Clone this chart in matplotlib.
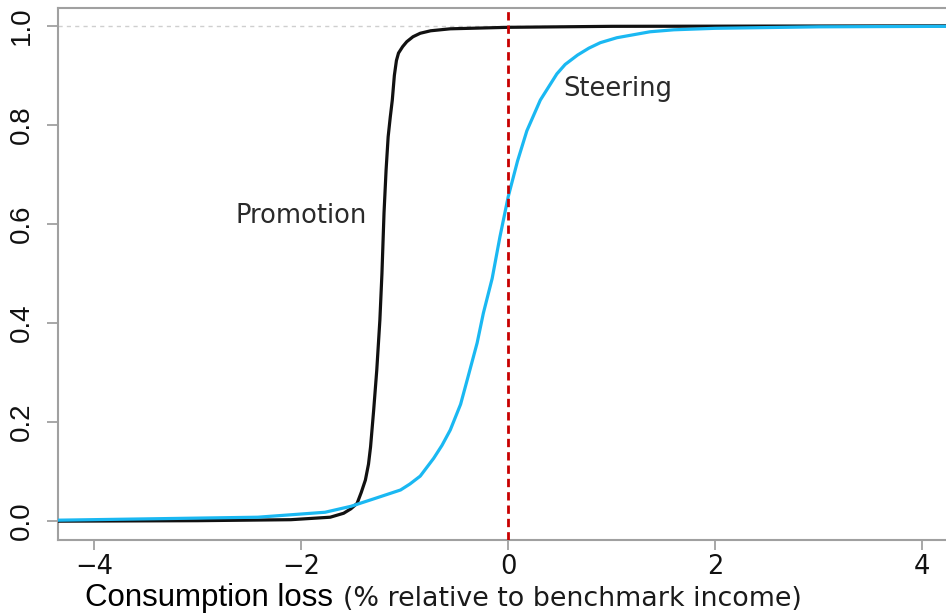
"""
Cumulative distribution of consumption loss under the promotion and
steering policies, with the zero-loss reference marked.
"""

import matplotlib

matplotlib.use("Agg")
import matplotlib.pyplot as plt

# Promotion policy CDF (consumption loss in %, cumulative share)
promotion_x = [-4.35, -3.0, -2.10, -1.72, -1.59, -1.52, -1.46, -1.42, -1.38,
               -1.35, -1.33, -1.30, -1.27, -1.24, -1.22, -1.20, -1.18, -1.16,
               -1.14, -1.12, -1.10, -1.08, -1.06, -1.02, -0.98, -0.92, -0.85,
               -0.75, -0.56, 0.0, 1.0, 4.23]
promotion_y = [0.0, 0.001, 0.003, 0.008, 0.016, 0.025, 0.036, 0.058, 0.083,
               0.115, 0.150, 0.224, 0.305, 0.406, 0.500, 0.622, 0.709, 0.776,
               0.815, 0.850, 0.900, 0.930, 0.945, 0.958, 0.968, 0.978, 0.985,
               0.990, 0.994, 0.997, 0.999, 1.0]

# Steering policy CDF
steering_x = [-4.35, -2.42, -1.77, -1.52, -1.30, -1.04, -0.95, -0.85, -0.72,
              -0.64, -0.56, -0.46, -0.39, -0.30, -0.24, -0.155, -0.08, 0.0,
              0.09, 0.18, 0.31, 0.47, 0.55, 0.67, 0.78, 0.89, 1.05, 1.21, 1.37,
              1.6, 2.0, 3.0, 4.23]
steering_y = [0.002, 0.008, 0.018, 0.030, 0.045, 0.063, 0.075, 0.091, 0.127,
              0.153, 0.184, 0.236, 0.290, 0.360, 0.420, 0.490, 0.574, 0.655,
              0.727, 0.788, 0.850, 0.903, 0.922, 0.941, 0.955, 0.966, 0.976,
              0.982, 0.988, 0.992, 0.995, 0.998, 0.999]

x_ticks = [-4, -2, 0, 2, 4]
y_ticks = [0.0, 0.2, 0.4, 0.6, 0.8, 1.0]

SPINE = "#a0a0a0"

fig = plt.figure(figsize=(9.46, 6.13), dpi=100)
ax = fig.add_axes([58 / 946, 73 / 613, 1 - 58 / 946, 532 / 613])

ax.axhline(1.0, color="#cfcfcf", lw=1.0, ls=(0, (3, 3)), zorder=1)
ax.plot(promotion_x, promotion_y, color="#111111", lw=2.3, zorder=3,
        solid_capstyle="round", solid_joinstyle="round")
ax.plot(steering_x, steering_y, color="#1ab8f2", lw=2.3, zorder=4,
        solid_capstyle="round", solid_joinstyle="round")
ax.axvline(0, color="#c80000", lw=2.0, ls=(0, (3, 1.8)), zorder=5)

ax.text(-2.0, 0.616, "Promotion", fontsize=18.5, color="#2a2a2a",
        family="DejaVu Sans", ha="center", va="center")
ax.text(1.06, 0.873, "Steering", fontsize=18.5, color="#2a2a2a",
        family="DejaVu Sans", ha="center", va="center")

ax.set_xlim(-4.35, 4.23)
ax.set_ylim(-0.038, 1.036)

ax.set_xticks(x_ticks)
ax.set_xticklabels([f"{t:d}".replace("-", "\u2212") for t in x_ticks],
                   family="DejaVu Sans", fontsize=18.5, color="#111111")
ax.set_yticks(y_ticks)
ax.set_yticklabels([f"{t:.1f}" for t in y_ticks], rotation=90, va="center",
                   family="Liberation Sans", fontsize=20, color="#111111")

ax.tick_params(axis="x", length=7, width=1.3, color=SPINE, pad=3)
ax.tick_params(axis="y", length=8, width=1.3, color=SPINE, pad=9)

for side in ("left", "top", "bottom"):
    ax.spines[side].set_color(SPINE)
    ax.spines[side].set_linewidth(1.5)
ax.spines["right"].set_visible(False)

fig.text(85 / 946, 1 - 606 / 613, "Consumption loss", family="Liberation Sans",
         fontsize=22.5, color="#000000", ha="left", va="baseline")
fig.text(343 / 946, 1 - 606 / 613, "(% relative to benchmark income)",
         family="DejaVu Sans", fontsize=19.4, color="#1a1a1a",
         ha="left", va="baseline")

fig.savefig("out.png", dpi=100)
